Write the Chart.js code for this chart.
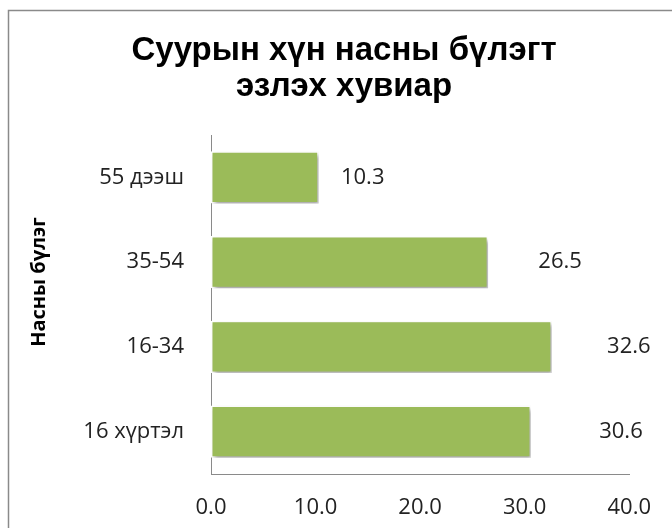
<!DOCTYPE html>
<html>
<head>
<meta charset="utf-8">
<script src="https://cdn.jsdelivr.net/npm/chart.js@4.4.0/dist/chart.umd.min.js"></script>
<style>
html,body{margin:0;padding:0;background:#fff;}
#wrap{width:672px;height:528px;position:relative;}
</style>
</head>
<body>
<div id="wrap"><canvas id="c" width="672" height="528"></canvas></div>
<script>
const titleLines = ["Суурын хүн насны бүлэгт", "эзлэх хувиар"];
const yAxisTitle = "Насны бүлэг";
const categories = ["55 дээш", "35-54", "16-34", "16 хүртэл"];
const values = [10.3, 26.5, 32.6, 30.6];
const xTicks = [0, 10, 20, 30, 40];

const labelShift = [44, 72, 77, 90];

const frame = {
  id: 'frame',
  beforeDraw(chart) {
    const ctx = chart.ctx;
    ctx.save();
    ctx.strokeStyle = '#8a8a8a';
    ctx.lineWidth = 1.5;
    ctx.strokeRect(8.5, 10.5, 700, 560);
    ctx.restore();
  }
};

const texts = {
  id: 'texts',
  afterDraw(chart) {
    const ctx = chart.ctx;
    ctx.save();
    ctx.fillStyle = '#000';
    ctx.textAlign = 'center';
    ctx.textBaseline = 'alphabetic';
    ctx.font = 'bold 33px "Liberation Sans", Arial, sans-serif';
    ctx.fillText(titleLines[0], 344, 60);
    ctx.fillText(titleLines[1], 344, 96);
    ctx.translate(45, 282);
    ctx.rotate(-Math.PI / 2);
    ctx.font = 'bold 20px "Open Sans"';
    ctx.fillText(yAxisTitle, 0, 0);
    ctx.restore();
  }
};

const shadow = {
  id: 'shadow',
  beforeDatasetsDraw(chart) {
    const ctx = chart.ctx;
    ctx.save();
    ctx.shadowColor = 'rgba(0,0,0,0.35)';
    ctx.shadowOffsetX = 2;
    ctx.shadowOffsetY = 3;
    ctx.shadowBlur = 4;
  },
  afterDatasetsDraw(chart) {
    chart.ctx.restore();
  }
};

const valueLabels = {
  id: 'valueLabels',
  afterDraw(chart) {
    const ctx = chart.ctx;
    const meta = chart.getDatasetMeta(0);
    ctx.save();
    ctx.font = '22px "Open Sans"';
    ctx.fillStyle = '#222';
    ctx.textAlign = 'center';
    ctx.textBaseline = 'middle';
    meta.data.forEach((bar, i) => {
      const v = chart.data.datasets[0].data[i];
      ctx.fillText(v.toFixed(1), bar.x + labelShift[i], bar.y);
    });
    ctx.restore();
  }
};

new Chart(document.getElementById('c'), {
  type: 'bar',
  data: {
    labels: categories,
    datasets: [{
      data: values,
      backgroundColor: '#9BBB59',
      borderColor: '#ffffff',
      borderWidth: 1.5,
      borderSkipped: false,
      barPercentage: 0.614,
      categoryPercentage: 1.0
    }]
  },
  options: {
    indexAxis: 'y',
    responsive: false,
    animation: false,
    layout: { padding: { left: 0, right: 40, top: 135, bottom: 0 } },
    plugins: {
      legend: { display: false },
      tooltip: { enabled: false },
      title: { display: false }
    },
    scales: {
      x: {
        min: 0, max: 40,
        afterBuildTicks(s) { s.ticks = xTicks.map(v => ({ value: v })); },
        afterFit(s) { s.height = 54; },
        grid: { display: false, drawTicks: false },
        border: { display: true, color: '#8a8a8a', width: 1 },
        ticks: {
          padding: 21,
          color: '#222',
          font: { family: '"Open Sans"', size: 22 },
          callback: v => Number(v).toFixed(1)
        }
      },
      y: {
        afterFit(s) { s.width = 211; },
        grid: { display: false, drawTicks: false },
        border: { display: true, color: '#8a8a8a', width: 1 },
        ticks: {
          padding: 27,
          color: '#222',
          font: { family: '"Open Sans"', size: 22 }
        }
      }
    }
  },
  plugins: [frame, shadow, valueLabels, texts]
});
</script>
</body>
</html>
